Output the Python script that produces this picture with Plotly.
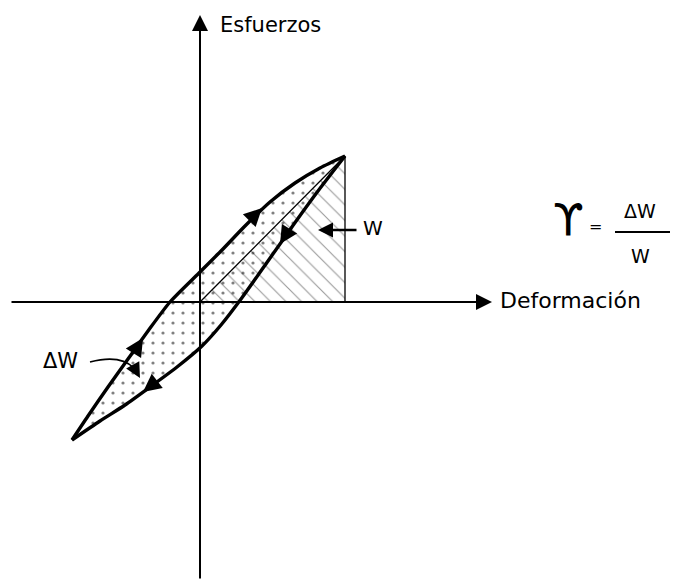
import plotly.graph_objects as go

# Hysteresis loop (data units: origin at axes crossing)
upper_x = [-128, -112, -92, -72, -52, -30, -1, 22, 45, 70, 95, 120, 145]
upper_y = [-138, -114, -85, -57, -29, 0, 29, 52, 76, 100, 119, 134, 146]
lower_x = [145, 118, 94, 68, 41, 21, 2, -23, -50, -75, -100, -128]
lower_y = [146, 111, 78, 41, 3, -23, -44, -65, -85, -103, -119, -138]

x_label = "Deformación"
y_label = "Esfuerzos"

tip_x, tip_y = upper_x[-1], upper_y[-1]
tri_x = [0, tip_x, tip_x, 0]
tri_y = [0, tip_y, 0, 0]

FONT = "DejaVu Sans"
fig = go.Figure()

# hatched triangle W
fig.add_trace(go.Scatter(x=tri_x, y=tri_y, mode="lines", fill="toself",
                         line=dict(color="black", width=1.3),
                         fillcolor="rgba(0,0,0,0)",
                         fillpattern=dict(shape="\\", fgcolor="#333", bgcolor="white",
                                          size=11, solidity=0.1),
                         hoverinfo="skip", showlegend=False))

# stippled loop
loop_x = upper_x + lower_x[1:]
loop_y = upper_y + lower_y[1:]
fig.add_trace(go.Scatter(x=loop_x, y=loop_y, mode="lines", fill="toself",
                         line=dict(color="rgba(0,0,0,0)", width=0, shape="spline"),
                         fillcolor="rgba(0,0,0,0)",
                         fillpattern=dict(shape=".", fgcolor="#000", bgcolor="rgba(0,0,0,0)",
                                          size=10, solidity=0.08),
                         hoverinfo="skip", showlegend=False))

# branches
for bx, by in ((upper_x, upper_y), (lower_x, lower_y)):
    fig.add_trace(go.Scatter(x=bx, y=by, mode="lines",
                             line=dict(color="black", width=3.4, shape="spline", smoothing=0.7),
                             hoverinfo="skip", showlegend=False))

ann = []
def arrow(x, y, ax, ay, size=1.4, width=2, head=2):
    ann.append(dict(x=x, y=y, ax=ax, ay=ay, xref="x", yref="y", axref="x", ayref="y",
                    showarrow=True, arrowhead=head, arrowsize=size, arrowwidth=width,
                    arrowcolor="black", text="", standoff=0, startstandoff=0))

# axes
arrow(292, 0, -190, 0, size=1.6, width=2)
arrow(0, 287, 0, -278, size=1.6, width=2)

# direction arrows on loop
arrow(62, 94, 54, 86, size=1.2, width=3)
arrow(-57, -36, -62, -44, size=1.2, width=3)
arrow(80, 58, 85, 66, size=1.2, width=3)
arrow(-57, -90, -48, -83, size=1.2, width=3)

# W pointer
arrow(118, 72, 158, 72, size=1.2, width=2.5)

# Delta W curved pointer
fig.add_shape(type="path", path="M -110,-60 Q -80,-52 -66,-66",
              line=dict(color="black", width=1.6), xref="x", yref="y")
arrow(-60, -76, -65, -67, size=1.2, width=2.5)

def txt(x, y, s, size, xanchor="left"):
    ann.append(dict(x=x, y=y, xref="x", yref="y", text=s, showarrow=False,
                    xanchor=xanchor, yanchor="middle",
                    font=dict(family=FONT, size=size, color="black")))

txt(18, 277, y_label, 21)
txt(298, 2, x_label, 22)
txt(161, 74, "W", 20)
txt(-159, -59, "ΔW", 21)
txt(368, 82, "ϒ", 44, xanchor="center")
txt(395, 76, "=", 16, xanchor="center")
txt(440, 91, "ΔW", 19, xanchor="center")
txt(440, 46, "W", 19, xanchor="center")
fig.add_shape(type="line", x0=415, x1=477, y0=70, y1=70,
              line=dict(color="black", width=2.2), xref="x", yref="y")

fig.update_layout(width=678, height=585, margin=dict(l=0, r=0, t=0, b=0),
                  paper_bgcolor="white", plot_bgcolor="white",
                  annotations=ann,
                  xaxis=dict(range=[-192, 486], visible=False, fixedrange=True),
                  yaxis=dict(range=[-291, 294], visible=False, fixedrange=True))
fig.write_html("out.html")
